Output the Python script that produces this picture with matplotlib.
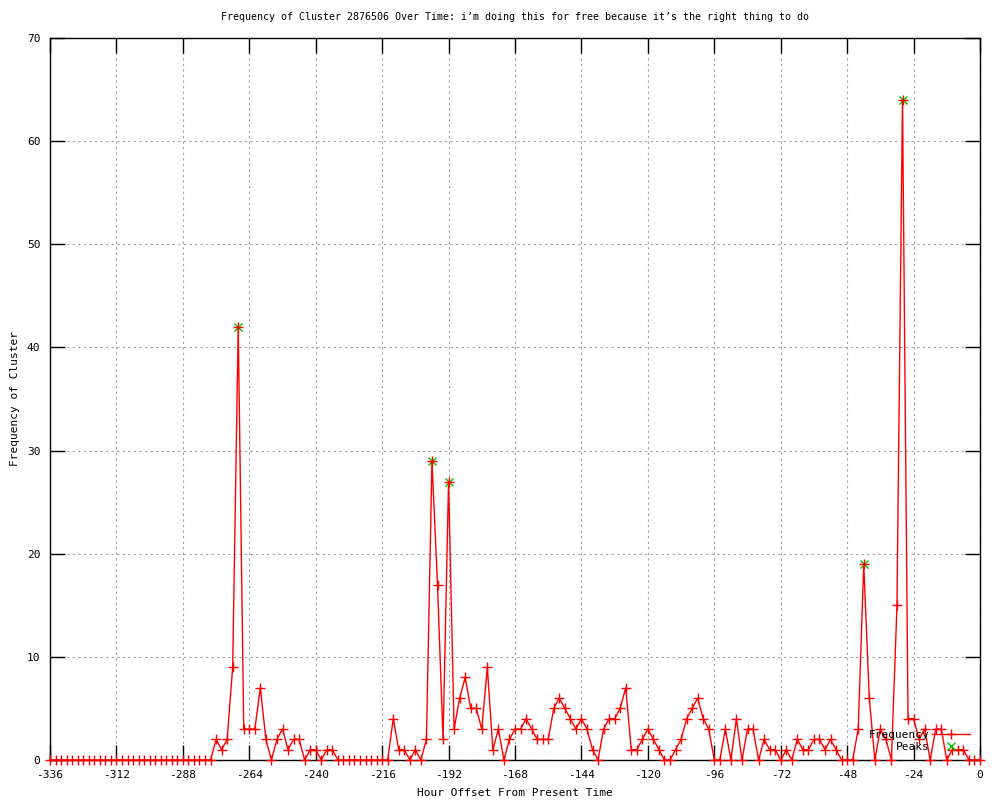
import matplotlib
matplotlib.use('Agg')
import matplotlib.pyplot as plt
import numpy as np

# Данные: час относительно текущего времени, частота кластера
hours = np.arange(-336, 1, 2)
frequency = [
    0, 0, 0, 0, 0, 0, 0, 0, 0, 0, 0, 0, 0, 0, 0, 0, 0, 0, 0, 0,
    0, 0, 0, 0, 0, 0, 0, 0, 0, 0,
    2, 1, 2, 9, 42, 3, 3, 3, 7, 2, 0, 2, 3, 1, 2, 2, 0, 1, 1, 0,
    1, 1, 0,
    0, 0, 0, 0, 0, 0, 0, 0, 0,
    4, 1, 1, 0, 1, 0, 2, 29, 17, 2, 27, 3, 6, 8, 5, 5, 3, 9, 1, 3,
    0, 2, 3, 3, 4, 3, 2, 2, 2, 5, 6, 5, 4, 3, 4, 3, 1, 0, 3, 4,
    4, 5, 7, 1, 1, 2, 3, 2, 1, 0, 0, 1, 2, 4, 5, 6, 4, 3, 0, 0,
    3, 0, 4, 0, 3, 3, 0, 2, 1, 1, 0, 1, 0, 2, 1, 1, 2, 2, 1, 2,
    1, 0, 0, 0, 3, 19, 6, 0, 3, 2, 0, 15, 64, 4, 4, 2, 3, 0, 3, 3,
    0, 1, 1, 1, 0, 0, 0,
]
peak_hours = [-268, -198, -192, -42, -28]
peak_values = [42, 29, 27, 19, 64]

x_ticks = list(range(-336, 1, 24))
y_ticks = list(range(0, 71, 10))

plt.rcParams['font.family'] = ['DejaVu Sans Mono', 'DejaVu Sans']
plt.rcParams['font.size'] = 8
plt.rcParams['axes.unicode_minus'] = False

fig = plt.figure(figsize=(10, 8), dpi=100)
ax = fig.add_axes([0.05, 0.05, 0.93, 0.9025])

# Сетка
ax.grid(True, color='#a0a0a0', linestyle=(0, (2, 3)), linewidth=0.8)
ax.set_axisbelow(True)

# Построение графика
ax.plot(hours, frequency, color='red', linewidth=1, marker='+',
        markersize=7, markeredgewidth=1, label='Frequency', clip_on=False,
        zorder=3)
ax.plot(peak_hours, peak_values, linestyle='none', marker='x',
        color='#00c000', markersize=5.5, markeredgewidth=1, label='Peaks',
        zorder=2.5)

ax.set_xlim(-336, 0)
ax.set_ylim(0, 70)
ax.set_xticks(x_ticks)
ax.set_yticks(y_ticks)
ax.tick_params(direction='in', length=11, width=1, top=True, right=True,
               pad=7, colors='black')
for s in ax.spines.values():
    s.set_linewidth(1)

ax.set_title('Frequency of Cluster 2876506 Over Time: i\u2019m doing this for free '
             'because it\u2019s the right thing to do', pad=13, fontsize=7.2)
ax.set_xlabel('Hour Offset From Present Time', labelpad=6)
ax.set_ylabel('Frequency of Cluster', labelpad=5)

ax.legend(loc='lower right', bbox_to_anchor=(0.995, 0.003), frameon=False,
          markerfirst=False, handlelength=3.4, handletextpad=0.2,
          labelspacing=0.25, borderpad=0, numpoints=1, fontsize=8)

fig.savefig('out.png', dpi=100)
